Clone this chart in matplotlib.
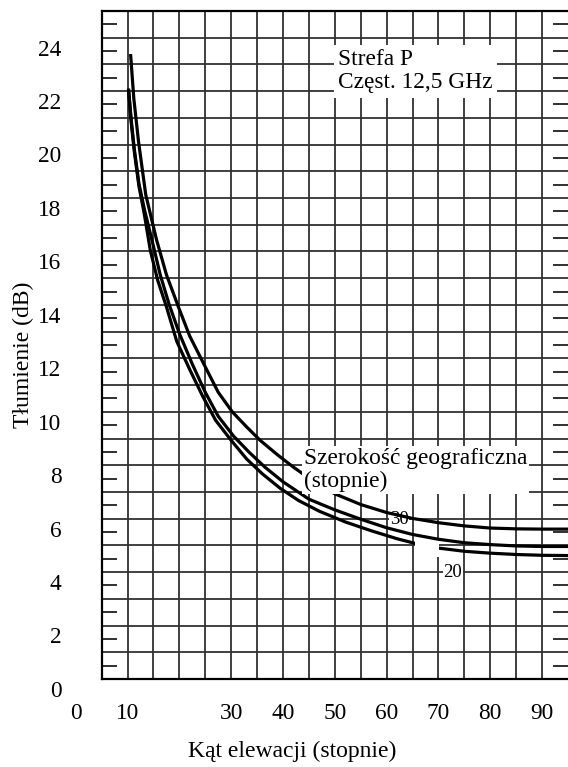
import numpy as np
import matplotlib
matplotlib.use("Agg")
import matplotlib.pyplot as plt
from matplotlib.patches import Rectangle

plt.rcParams['font.family'] = ['Liberation Serif', 'DejaVu Serif']

# latitude 30 (top curve)
lat30_x = [10.6, 11.2, 12.1, 13.5, 15.6, 17.5, 19.8, 22.0, 25.0, 27.5, 30.2, 33.0, 35.6,
           39.0, 42.0, 46.0, 50.0, 55.0, 60.0, 65.0, 70.0, 75.0, 80.0, 85.0, 90.0, 95.0]
lat30_y = [23.7, 22.1, 20.5, 18.5, 16.8, 15.5, 14.3, 13.2, 12.05, 11.1, 10.37, 9.8, 9.3,
           8.75, 8.3, 7.75, 7.3, 6.9, 6.6, 6.38, 6.22, 6.1, 6.02, 5.99, 5.98, 5.98]
# middle curve (unlabelled)
mid_x = [10.2, 10.7, 11.3, 12.2, 13.3, 14.7, 16.3, 18.0, 20.0, 22.5, 25.0, 27.5, 30.5,
         33.5, 36.5, 40.0, 45.0, 50.0, 55.0, 60.0, 65.0, 70.0, 75.0, 80.0, 85.0, 90.0, 95.0]
mid_y = [22.4, 21.3, 20.2, 18.9, 17.9, 16.8, 15.5, 14.4, 13.3, 12.15, 11.1, 10.2, 9.45,
         8.85, 8.3, 7.75, 7.1, 6.7, 6.35, 6.03, 5.78, 5.6, 5.47, 5.4, 5.35, 5.33, 5.33]
# latitude 20 (bottom curve)
lat20_x = [10.2, 10.7, 11.3, 12.2, 13.2, 14.4, 15.8, 17.5, 19.5, 22.0, 24.5, 27.0, 30.0,
           33.0, 36.0, 39.5, 43.0, 47.0, 52.0, 57.0, 62.0, 66.0, 70.0, 75.0, 80.0, 85.0, 90.0, 95.0]
lat20_y = [22.4, 21.2, 20.1, 18.8, 17.8, 16.4, 15.3, 14.3, 13.0, 11.95, 10.95, 10.05, 9.3,
           8.6, 8.05, 7.5, 7.05, 6.65, 6.25, 5.92, 5.62, 5.42, 5.27, 5.15, 5.08, 5.03, 5.0, 4.99]

xtick_vals = [10, 30, 40, 50, 60, 70, 80, 90]
ytick_vals = [2, 4, 6, 8, 10, 12, 14, 16, 18, 20, 22, 24]

off = 0.37  # grid is drawn a bit above the labelled values
fig = plt.figure(figsize=(5.68, 7.67), dpi=100)
ax = fig.add_axes([0.179, 0.1147, 0.821, 0.871])
ax.set_xlim(5, 95)
ax.set_ylim(off, 25 + off)

# grid
ax.set_xticks(np.arange(10, 95, 5), minor=True)
ax.set_yticks(np.arange(1, 25) + off, minor=True)
ax.grid(which='minor', color='#303030', lw=1.3)
ax.tick_params(which='minor', length=0)
ax.set_xticks(xtick_vals)
ax.set_yticks(ytick_vals)
ax.grid(which='major', axis='x', color='#303030', lw=1.3)
ax.tick_params(which='major', length=0, labelsize=16.8)
ax.tick_params(axis='x', pad=17)
ax.tick_params(axis='y', pad=29)
for s in ['left', 'bottom', 'top']:
    ax.spines[s].set_linewidth(1.6)
ax.spines['right'].set_visible(False)
ax.set_axisbelow(True)

# short dashes in the middle of each cell on both sides
half = np.arange(0, 25) + 0.5 + off
ax.hlines(half, 0, 0.032, transform=ax.get_yaxis_transform(), color='#202020', lw=1.3)
ax.hlines(half, 0.968, 1, transform=ax.get_yaxis_transform(), color='#202020', lw=1.3)

# zero labels outside the frame
ax.text(-0.086, 0, '0', transform=ax.get_yaxis_transform(), ha='right', va='center_baseline', fontsize=16.8)
ax.text(0, -0.0355, '0', transform=ax.get_xaxis_transform(), ha='center', va='top', fontsize=16.8)

ax.plot(lat30_x, lat30_y, color='black', lw=2.3, zorder=4)
ax.plot(lat20_x, lat20_y, color='black', lw=2.3, zorder=4)
ax.add_patch(Rectangle((65.5, 4.93), 4.6, 0.68, facecolor='white', edgecolor='none', zorder=4.5))
ax.plot(mid_x, mid_y, color='black', lw=2.3, zorder=5)

box = dict(facecolor='white', edgecolor='none', pad=3)
ax.text(50.6, 23.95, 'Strefa P\nCzęst. 12,5 GHz', ha='left', va='top', fontsize=16.8,
        linespacing=1.15, bbox=box, zorder=6)
ax.text(44.0, 9.0, 'Szerokość geograficzna\n(stopnie)', ha='left', va='top', fontsize=16.8,
        linespacing=1.1, bbox=dict(facecolor='white', edgecolor='none', pad=1.5), zorder=6)
ax.text(62.4, 6.35, '30', ha='center', va='center', fontsize=13.5,
        bbox=dict(facecolor='white', edgecolor='none', pad=0.3), zorder=3)
ax.text(72.8, 4.37, '20', ha='center', va='center', fontsize=13.5,
        bbox=dict(facecolor='white', edgecolor='none', pad=0.3), zorder=3)

ax.set_xlabel('Kąt elewacji (stopnie)', fontsize=17, va='center')
ax.xaxis.set_label_coords(0.408, -0.108)
ax.set_ylabel('Tłumienie (dB)', fontsize=17, va='center')
ax.yaxis.set_label_coords(-0.167, 0.485)

fig.savefig('out.png', dpi=100)
